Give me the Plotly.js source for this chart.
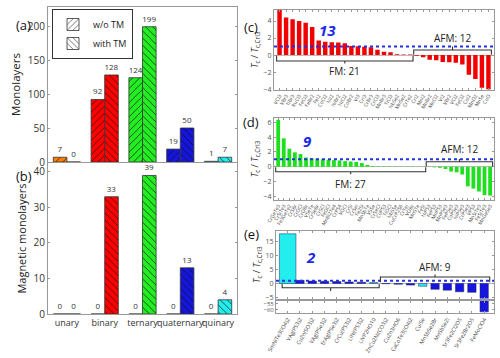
<!DOCTYPE html>
<html><head><meta charset="utf-8">
<script src="https://cdn.plot.ly/plotly-3.0.1.min.js"></script>
<style>html,body{margin:0;padding:0;background:#fff}#chart{width:500px;height:358px}</style>
</head><body><div id="chart"></div>
<script>
// ---------- data ----------
const categories = ['unary','binary','ternary','quaternary','quinary'];
const monoWithoutTM = [7, 92, 124, 19, 1];
const monoWithTM    = [0, 128, 199, 50, 7];
const magWithoutTM  = [0, 0, 0, 0, 0];
const magWithTM     = [0, 33, 39, 13, 4];

const binNames = ['VCl3','VBr3','TiBr3','RuCl3','FeCl3','FeBr2','FeI2','CoCl2','NiI2','NiBr2','NiCl2','CoBr2','VI3','CrI3','CrBr3','CrCl3','MnBr3','TiCl3','NbSe2','MnSe2','CrTe2',
  'CrI2','MnI2','MnBr2','MnCl2','VI2','VBr2','VCl2','FeCl2','CoI2','MnO2','MnSe','CoO'];
const binTc = [5.3,4.4,4.2,4.0,3.8,3.3,1.7,1.55,1.52,1.48,1.4,1.06,1.04,0.98,0.93,0.62,0.38,0.34,0.1,0.07,0.06,
  -0.08,-0.25,-0.56,-0.6,-0.8,-0.85,-0.9,-1.12,-2.3,-2.8,-3.85,-4.0];

const terNames = ['CrGeTe3','CrSiTe3','Fe3GeTe2','CrSBr','CrOCl','CrOBr','VSeTe','CrSeBr','CrSCl','FeOCl','MnBi2Te4','CrPS4','VOCl','CrSI','CrSeI','Fe2Si','MnSbTe','VSSe','CrSeCl','CoPS3','TiOCl','NbSSe','CuCrP2S6','CrTeI','VOBr','MnSTe','FeSI',
  'NiPS3','FePS3','MnPS3','MnPSe3','FePSe3','CoPSe3','NiPSe3','CrPSe3','VPS3','MnSiTe3','FeSiTe3','MnGeSe3'];
const terTc = [6.35,3.85,2.45,1.95,1.72,1.25,1.16,1.08,1.03,0.95,0.9,0.86,0.76,0.72,0.66,0.5,0.25,0.08,0.06,0.05,0.05,0.04,0.04,0.03,0.03,0.02,0.02,
  -0.03,-0.08,-0.15,-0.3,-0.65,-0.75,-1.05,-2.65,-2.95,-3.35,-3.85,-3.9];

const multiNames = ['SmNiTe3(IO4)2','VAg(PS3)2','CuZn(SO3)2','VAg(PSe3)2','ErAg(PSe3)2','CrCu(PS3)2','LiNi(PS3)2','LiVP2HO10',
  'ZnCu2Ni(CO3)2','CuZn3HO6','CaCoTe3(IO4)2','CuISe','MnSbSe2Br','MnSbSe2I','Sr3Fe2Cl2O5','Sr3Fe2Br2O5','FeMoClO4'];
const multiTc = [17.8,1.1,0.85,0.8,0.65,0.5,0.45,0.3, -0.1,-0.3,-0.6,-1.0,-2.1,-2.4,-3.0,-3.2,-62];
const multiClass = ['quinary','quaternary','quaternary','quaternary','quaternary','quaternary','quaternary','quinary',
  'quaternary','quaternary','quaternary','quinary','quaternary','quaternary','quaternary','quaternary','quaternary'];

const legendNames = ['w/o TM', 'with TM'];

// ---------- style ----------
const palette = {unary:'#ff8000', binary:'#ff0000', ternary:'#22ee22', quaternary:'#1515dd', quinary:'#22eeee'};
const FONT = 'Open Sans, Liberation Sans, sans-serif';
const idx = a => a.map((_, i) => i);
const fmCount = a => a.filter(v => v > 0).length;
const aboveCount = a => a.filter(v => v > 1).length;

function groupBars(y, xa, ya, shape, og) {
  return categories.map((c, i) => ({type:'bar', x:[c], y:[y[i]], xaxis:xa, yaxis:ya, offsetgroup:og, showlegend:false,
    marker:{color:palette[c], line:{color:'#333', width:0.8},
      pattern:{shape:shape, fillmode:'replace', bgcolor:palette[c], fgcolor:'#111', fgopacity:1, size:5, solidity:0.14}},
    text:[String(y[i])], textposition:'outside', cliponaxis:false, constraintext:'none',
    textfont:{size:8, color:'#333', family:FONT}}));
}
const legendBar = (name, shape, og) => ({type:'bar', x:[categories[0]], y:[null], xaxis:'x', yaxis:'y', offsetgroup:og,
  name:name, showlegend:true,
  marker:{color:'#fff', line:{color:'#333', width:0.8},
    pattern:{shape:shape, fillmode:'replace', bgcolor:'#fff', fgcolor:'#111', fgopacity:1, size:5, solidity:0.14}}});

const traces = [
  ...groupBars(monoWithoutTM,'x','y','/','a'),
  ...groupBars(monoWithTM,'x','y','\\','b'),
  ...groupBars(magWithoutTM,'x2','y2','/','a'),
  ...groupBars(magWithTM,'x2','y2','\\','b'),
  legendBar(legendNames[0], '/', 'a'),
  legendBar(legendNames[1], '\\', 'b'),
  {type:'bar', x:idx(binNames), y:binTc, xaxis:'x3', yaxis:'y3', showlegend:false, width:0.68,
    marker:{color:'#f00000', line:{width:0}}},
  {type:'bar', x:idx(terNames), y:terTc, xaxis:'x4', yaxis:'y4', showlegend:false, width:0.68,
    marker:{color:'#1fe01f', line:{width:0}}},
  {type:'bar', x:idx(multiNames), y:multiTc, xaxis:'x5', yaxis:'y5', showlegend:false,
    width:multiTc.map((v,i)=> i===0 ? 1.35 : 0.68),
    marker:{color:multiClass.map(c=>palette[c]), line:{color:'#222266', width:0.5}}},
  {type:'bar', x:idx(multiNames), y:multiTc, xaxis:'x6', yaxis:'y6', showlegend:false,
    width:multiTc.map((v,i)=> i===0 ? 1.35 : 0.68),
    marker:{color:multiClass.map(c=>palette[c]), line:{color:'#222266', width:0.5}}}
];

const px = v => v/500, py = v => 1 - v/358;
const frame = {showline:true, linecolor:'#999', linewidth:1, mirror:'allticks', ticks:'inside', ticklen:2, tickcolor:'#999', showgrid:false};
const rTick = {size:7, color:'#555', family:FONT};
const xLab = (names, domain, anchor, range, size) => Object.assign({}, frame, {domain, anchor, range,
  tickvals:idx(names), ticktext:names, tickangle:-60, tickfont:{size:size, color:'#444', family:FONT}, zeroline:false});
const tcTitle = {text:'<i>T</i><sub>c</sub> / <i>T</i><sub>c,CrI3</sub>', font:{size:9, color:'#333', family:FONT}, standoff:3};

const layout = {
  width:500, height:358, margin:{l:0,r:0,t:0,b:0}, paper_bgcolor:'#fff', plot_bgcolor:'#fff',
  barmode:'group', bargap:0.28, bargroupgap:0, font:{family:FONT},
  showlegend:true,
  legend:{x:px(52), y:py(9), xanchor:'left', yanchor:'top', bordercolor:'#333', borderwidth:1,
    font:{size:9, color:'#222', family:FONT}, itemwidth:30, tracegroupgap:0, traceorder:'normal', bgcolor:'#fff'},
  xaxis:Object.assign({}, frame, {domain:[px(48), px(237)], anchor:'y', showticklabels:false, ticks:'',
    categoryorder:'array', categoryarray:categories}),
  yaxis:Object.assign({}, frame, {domain:[py(162), py(7)], anchor:'x', range:[0,228], tickvals:[0,50,100,150,200],
    tickfont:{size:10, color:'#333', family:FONT}, zeroline:false,
    title:{text:'Monolayers', font:{size:11.5, color:'#222', family:FONT}, standoff:4}}),
  xaxis2:Object.assign({}, frame, {domain:[px(48), px(237)], anchor:'y2', ticks:'', tickangle:0,
    categoryorder:'array', categoryarray:categories,
    tickfont:{size:9, color:'#333', family:FONT}}),
  yaxis2:Object.assign({}, frame, {domain:[py(314), py(163)], anchor:'x2', range:[0,42.5], tickvals:[0,10,20,30,40],
    tickfont:{size:10, color:'#333', family:FONT}, zeroline:false,
    title:{text:'Magnetic monolayers', font:{size:11, color:'#222', family:FONT}, standoff:4}}),
  xaxis3:xLab(binNames, [px(274), px(494)], 'y3', [-0.85, 32.85], 5),
  yaxis3:Object.assign({}, frame, {domain:[py(90), py(9.5)], anchor:'x3', range:[-4.1,5.35], dtick:2,
    tickfont:rTick, zeroline:true, zerolinecolor:'#bbb', zerolinewidth:1, title:tcTitle}),
  xaxis4:xLab(terNames, [px(274), px(494)], 'y4', [-0.75, 38.7], 5),
  yaxis4:Object.assign({}, frame, {domain:[py(200), py(118)], anchor:'x4', range:[-4.5,6.6], dtick:2,
    tickfont:rTick, zeroline:true, zerolinecolor:'#bbb', zerolinewidth:1, title:tcTitle}),
  xaxis5:Object.assign({}, frame, {domain:[px(276), px(494)], anchor:'y5', range:[-0.95,16.8], showticklabels:false,
    tickvals:idx(multiNames), zeroline:false}),
  yaxis5:Object.assign({}, frame, {domain:[py(298.5), py(231)], anchor:'x5', range:[-5.4,18.8], tickvals:[-5,0,5,10,15],
    tickfont:rTick, zeroline:true, zerolinecolor:'#bbb', zerolinewidth:1.5, title:tcTitle}),
  xaxis6:xLab(multiNames, [px(276), px(494)], 'y6', [-0.95, 16.8], 5.5),
  yaxis6:Object.assign({}, frame, {domain:[py(313), py(300.5)], anchor:'x6', range:[-63,-52], tickvals:[-55,-60],
    tickfont:{size:6, color:'#555', family:FONT}, zeroline:false}),
  shapes:[], annotations:[]
};

// reference line at Tc = Tc,CrI3 and FM/AFM brackets
const panels = [
  {vals:binTc, xa:'x3', ya:'y3', fm:[-0.05,-0.7,-1.0,-1.9], afm:[0.05,0.6,1.0,2.05], cnt:[0.195,0.9]},
  {vals:terTc, xa:'x4', ya:'y4', fm:[-0.05,-0.68,-1.03,-2.4], afm:[0.05,0.68,1.04,2.35], cnt:[0.123,0.87]},
  {vals:multiTc, xa:'x5', ya:'y5', fm:[-0.2,-1.55,-2.7,-6.0], afm:[0.4,2.3,3.2,5.9], cnt:[0.127,0.79]}
];
panels.forEach(p => {
  const n = p.vals.length, f = fmCount(p.vals);
  layout.shapes.push({type:'line', xref:p.xa+' domain', yref:p.ya, x0:0, x1:1, y0:1, y1:1,
    line:{color:'#2233dd', width:2, dash:'dot'}});
  const br = (x0, x1, s) => {
    const xm = (x0+x1)/2;
    layout.shapes.push({type:'path', xref:p.xa, yref:p.ya,
      path:`M ${x0},${s[0]} L ${x0},${s[1]} L ${x1},${s[1]} L ${x1},${s[0]} M ${xm},${s[1]} L ${xm},${s[2]}`,
      line:{color:'#333', width:1.1}});
    return xm;
  };
  const xf = br(-0.45, f-1+0.45, p.fm);
  const xa = br(f-0.45, n-1+0.45, p.afm);
  layout.annotations.push({xref:p.xa, yref:p.ya, x:xf, y:p.fm[3], text:'FM: '+f, showarrow:false,
    font:{size:10, color:'#222', family:FONT}});
  layout.annotations.push({xref:p.xa, yref:p.ya, x:xa, y:p.afm[3], text:'AFM: '+(n-f), showarrow:false,
    font:{size:10, color:'#222', family:FONT}});
  layout.annotations.push({xref:p.xa+' domain', yref:p.ya+' domain', x:p.cnt[0], y:p.cnt[1],
    text:'<b><i>'+aboveCount(p.vals)+'</i></b>', showarrow:false, font:{size:15, color:'#1a2ae8', family:FONT}});
});
[['(a)',14,14],['(b)',14,176],['(c)',251,16],['(d)',251,122.5],['(e)',251,234]].forEach(l => {
  layout.annotations.push({xref:'paper', yref:'paper', x:px(l[1]), y:py(l[2]), text:l[0], showarrow:false,
    font:{size:13, color:'#111', family:FONT}});
});

Plotly.newPlot('chart', traces, layout, {staticPlot:true, displayModeBar:false});
</script></body></html>
